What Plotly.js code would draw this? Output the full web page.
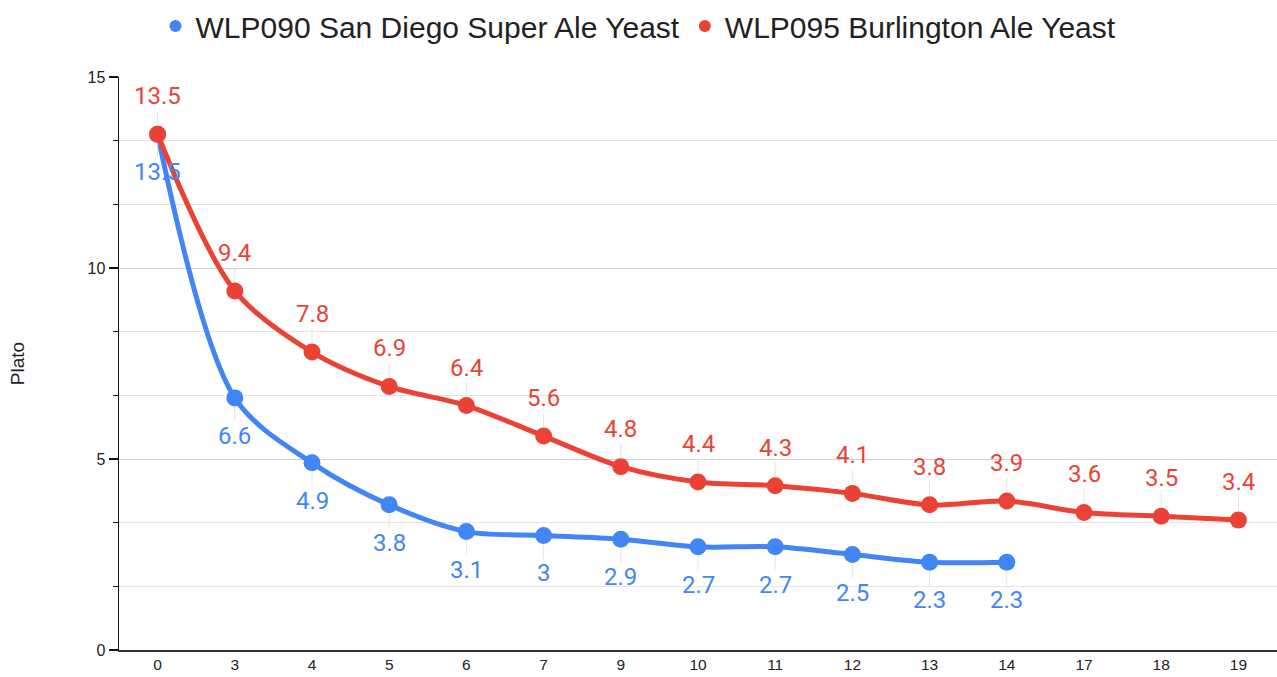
<!DOCTYPE html>
<html><head><meta charset="utf-8">
<script src="https://cdn.plot.ly/plotly-3.0.1.min.js"></script>
<style>html,body{margin:0;padding:0;background:#fff}#chart{width:1277px;height:677px}</style>
</head><body><div id="chart"></div>
<script>
const categories = ["0","3","4","5","6","7","9","10","11","12","13","14","17","18","19"];
const blueName = "WLP090 San Diego Super Ale Yeast";
const redName = "WLP095 Burlington Ale Yeast";
const blueValues = [13.5,6.6,4.9,3.8,3.1,3,2.9,2.7,2.7,2.5,2.3,2.3];
const redValues = [13.5,9.4,7.8,6.9,6.4,5.6,4.8,4.4,4.3,4.1,3.8,3.9,3.6,3.5,3.4];
const blueColor = "#4285F4", redColor = "#EA4335";
const yTickVals = [0,5,10,15];

const blueX = categories.slice(0, blueValues.length);

function labelAnns(ys, color, dir) {
  return ys.map((v, i) => ({
    x: i, y: v, xref: 'x', yref: 'y',
    text: String(v), showarrow: true, arrowhead: 0, arrowwidth: 1,
    arrowcolor: '#e3e3e3', ax: 0, ay: dir * 38, standoff: 9,
    font: {family: 'Roboto, sans-serif', size: 24, color: color},
    borderpad: 0
  }));
}

const traces = [
  {x: blueX, y: blueValues, type: 'scatter', mode: 'lines+markers', showlegend: false,
   line: {color: blueColor, width: 5, shape: 'spline', smoothing: 0.9},
   marker: {color: blueColor, size: 17}},
  {x: categories, y: redValues, type: 'scatter', mode: 'lines+markers', showlegend: false,
   line: {color: redColor, width: 5, shape: 'spline', smoothing: 0.9},
   marker: {color: redColor, size: 17}},
  {x: [null], y: [null], type: 'scatter', mode: 'markers', name: blueName,
   marker: {color: blueColor, size: 18}},
  {x: [null], y: [null], type: 'scatter', mode: 'markers', name: redName,
   marker: {color: redColor, size: 18}}
];

const layout = {
  width: 1277, height: 677,
  margin: {l: 119, r: 0, t: 77, b: 27},
  paper_bgcolor: '#fff', plot_bgcolor: '#fff',
  font: {family: '"Liberation Sans", Arial, sans-serif', color: '#222'},
  showlegend: true,
  legend: {orientation: 'h', x: 0.5, xanchor: 'center', xref: 'container', y: 1.0, yref: 'container', yanchor: 'top',
           font: {size: 30, color: '#222'}, itemsizing: 'constant', itemwidth: 30, tracegroupgap: 0},
  xaxis: {type: 'category', categoryorder: 'array', categoryarray: categories,
          range: [-0.5, categories.length - 0.5], showgrid: false, zeroline: false,
          showline: true, linecolor: '#333', linewidth: 1.5, ticks: '', tickfont: {size: 15.5, color: '#222'}},
  yaxis: {range: [0, 15], tickvals: yTickVals, showgrid: true, gridcolor: '#d0d0d0', gridwidth: 1,
          zeroline: false, showline: true, linecolor: '#111', linewidth: 1.5,
          ticks: 'outside', ticklen: 9, tickwidth: 1.5, tickcolor: '#111',
          tickfont: {size: 16, color: '#222'},
          minor: {dtick: 5/3, tick0: 0, ticks: 'outside', ticklen: 5, tickwidth: 1.5, tickcolor: '#111', showgrid: true, gridcolor: '#e4e4e4', gridwidth: 1},
          title: {text: 'Plato', font: {size: 19, color: '#222'}, standoff: 58}},
  annotations: labelAnns(blueValues, blueColor, 1).concat(labelAnns(redValues, redColor, -1))
};

Plotly.newPlot('chart', traces, layout, {displayModeBar: false, staticPlot: true});
</script></body></html>
